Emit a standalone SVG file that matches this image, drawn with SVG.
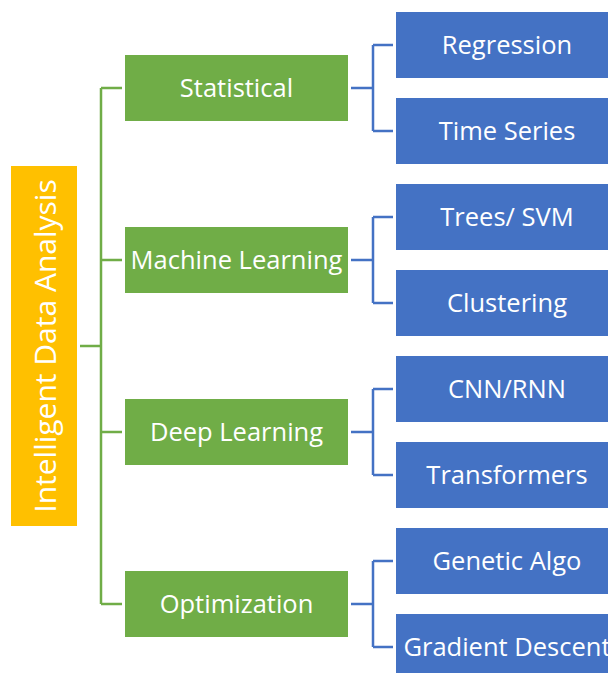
<svg xmlns="http://www.w3.org/2000/svg" width="608" height="673" viewBox="0 0 608 673">
<style>
.root{fill:#FFC000}
.mid{fill:#70AD47}
.leaf{fill:#4472C4}
text{font-family:"Open Sans","Noto Sans",sans-serif;fill:#fff;text-anchor:middle;dominant-baseline:central}
.t{font-size:25.5px}
.rt{font-size:30px}
.g{stroke:#70AD47;stroke-width:2.5;fill:none}
.b{stroke:#4472C4;stroke-width:2.5;fill:none}
</style>
<rect width="608" height="673" fill="#fff"/>
<g id="connectors">
<path class="g" d="M80 346H101M101 88V604M101 88H122M101 260H122M101 432H122M101 604H122"/>
<path class="b" d="M351 88H373M373 45V131M373 45H393M373 131H393"/>
<path class="b" d="M351 260H373M373 217V303M373 217H393M373 303H393"/>
<path class="b" d="M351 432H373M373 389V475M373 389H393M373 475H393"/>
<path class="b" d="M351 604H373M373 561V647M373 561H393M373 647H393"/>
</g>
<g id="root"><rect class="root" x="11" y="166" width="66" height="360"/><text class="rt" transform="translate(44 346) rotate(-90)">Intelligent Data Analysis</text></g>
<g id="statistical"><rect class="mid" x="125" y="55" width="223" height="66"/><text class="t" x="236.5" y="87">Statistical</text></g>
<g id="ml"><rect class="mid" x="125" y="227" width="223" height="66"/><text class="t" x="236.5" y="259">Machine Learning</text></g>
<g id="dl"><rect class="mid" x="125" y="399" width="223" height="66"/><text class="t" x="236.5" y="431">Deep Learning</text></g>
<g id="opt"><rect class="mid" x="125" y="571" width="223" height="66"/><text class="t" x="236.5" y="603">Optimization</text></g>
<g id="regression"><rect class="leaf" x="396" y="12" width="220" height="66"/><text class="t" x="507" y="44">Regression</text></g>
<g id="timeseries"><rect class="leaf" x="396" y="98" width="220" height="66"/><text class="t" x="507" y="130">Time Series</text></g>
<g id="trees"><rect class="leaf" x="396" y="184" width="220" height="66"/><text class="t" x="507" y="216">Trees/ SVM</text></g>
<g id="clustering"><rect class="leaf" x="396" y="270" width="220" height="66"/><text class="t" x="507" y="302">Clustering</text></g>
<g id="cnn"><rect class="leaf" x="396" y="356" width="220" height="66"/><text class="t" x="507" y="388">CNN/RNN</text></g>
<g id="transformers"><rect class="leaf" x="396" y="442" width="220" height="66"/><text class="t" x="507" y="474">Transformers</text></g>
<g id="genetic"><rect class="leaf" x="396" y="528" width="220" height="66"/><text class="t" x="507" y="560">Genetic Algo</text></g>
<g id="gradient"><rect class="leaf" x="396" y="614" width="220" height="66"/><text class="t" x="507" y="646">Gradient Descent</text></g>
</svg>
